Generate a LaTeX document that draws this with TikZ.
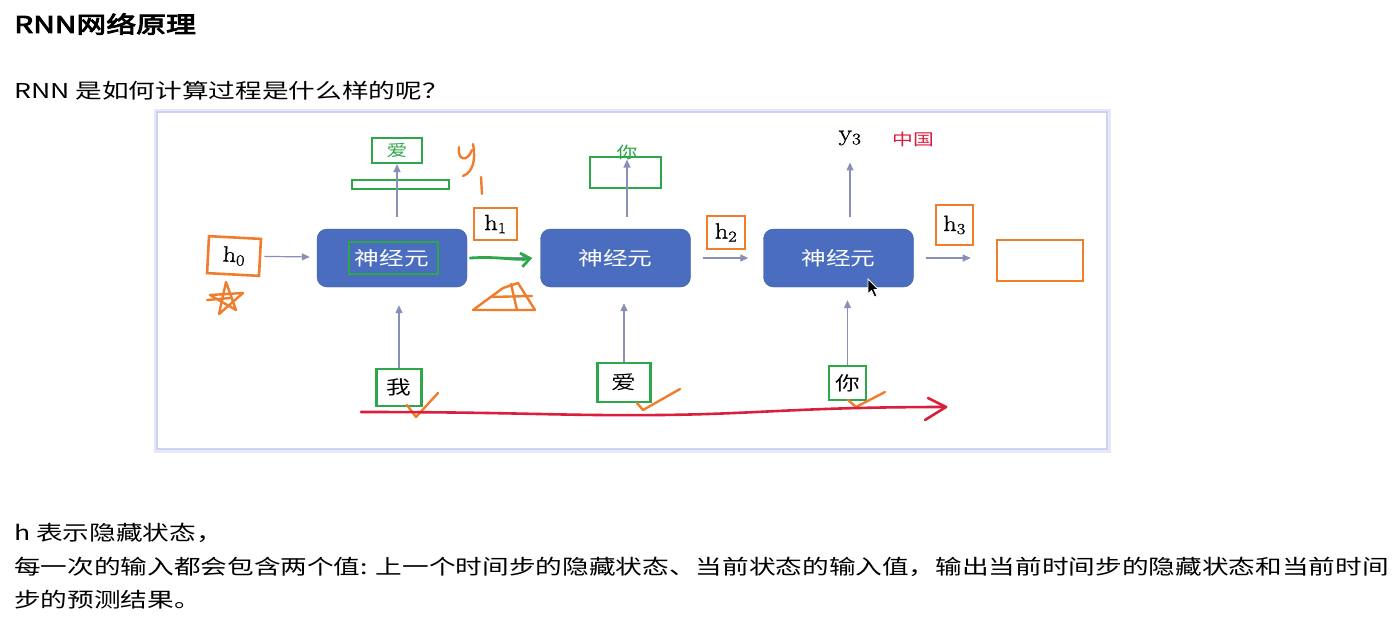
\documentclass[tikz,border=0pt]{standalone}
\usepackage{fontspec}
\usepackage{graphicx}
\setmainfont{Noto Sans CJK SC}[FakeStretch=1.3]
\newfontfamily\titlefont{Noto Sans CJK SC}[FakeStretch=1.3,FakeBold=4]
\newfontfamily\serifnum{Latin Modern Roman}[FakeStretch=1.2,FakeBold=1]
\usetikzlibrary{arrows.meta,positioning}
\definecolor{neuronblue}{HTML}{4A6DBF}
\definecolor{flowgray}{HTML}{8A8FB8}
\definecolor{markgreen}{HTML}{2DA74A}
\definecolor{markorange}{HTML}{F07D2C}
\definecolor{markred}{HTML}{D91F3D}
\definecolor{frameblue}{HTML}{CDD1F4}
\newcommand{\hlab}[1]{{\serifnum h\textsubscript{#1}}}

\begin{document}
\begin{tikzpicture}[x=1pt, y=-1pt, >={Triangle[length=8pt,width=7pt]}]
\tikzstyle{neuron} = [rectangle, fill=neuronblue, draw=neuronblue!85!black, rounded corners=10pt,
minimum width=150pt, minimum height=58pt, text=white, font=\fontsize{19}{19}\selectfont]
\tikzstyle{flow} = [draw=flowgray, line width=1.2pt, ->]
\tikzstyle{hbox} = [rectangle, draw=markorange, line width=2.6pt, fill=white, inner sep=0pt, font=\fontsize{22}{22}\selectfont]
\tikzstyle{gbox} = [rectangle, draw=markgreen, line width=2.2pt, inner sep=0pt, font=\fontsize{19}{19}\selectfont]
\tikzstyle{pen} = [line width=2.4pt, line cap=round, line join=round]
\tikzstyle{para} = [anchor=west, inner sep=0pt, font=\fontsize{20.5}{20.5}\selectfont]
\useasboundingbox (0,0) rectangle (1398,627);
\fill[white] (0,0) rectangle (1398,627);
\node[anchor=west, inner sep=0pt, font=\titlefont\fontsize{23}{23}\selectfont] (T) at (14,24) {RNN网络原理};
\node[para] (Q) at (14,91) {RNN 是如何计算过程是什么样的呢？};
\node[draw=frameblue!50, line width=7pt, minimum width=950pt, minimum height=337pt] (F0) at (632,280.5) {};
\node[draw=frameblue, line width=2.5pt, fill=white, minimum width=950pt, minimum height=337pt] (F) at (632,280.5) {};
\node[neuron] (n1) at (392,258) {神经元};
\node[neuron] (n2) at (615.5,258) {神经元};
\node[neuron] (n3) at (838.5,258) {神经元};
\node[draw=markgreen, line width=1.5pt, minimum width=89pt, minimum height=32pt] (n1mark) at (393.5,258) {};
\node[hbox, minimum width=52pt, minimum height=37pt, rotate=-3] (hz) at (234,256) {\hlab{0}};
\node[hbox, minimum width=43pt, minimum height=32pt] (ho) at (495.5,224) {\hlab{1}};
\node[hbox, minimum width=38pt, minimum height=33pt] (ht) at (726,232.5) {\hlab{2}};
\node[hbox, minimum width=37pt, minimum height=40pt] (hth) at (954.5,225) {\hlab{3}};
\node[hbox, minimum width=86pt, minimum height=41pt] (hout) at (1040,260.5) {};
\node[gbox, minimum width=45pt, minimum height=37pt] (x1) at (399,387.5) {我};
\node[gbox, minimum width=53pt, minimum height=39pt] (x2) at (624,382.5) {爱};
\node[gbox, minimum width=37pt, minimum height=34pt] (x3) at (847.5,383) {你};
\node[gbox, minimum width=50pt, minimum height=25pt, text=markgreen, font=\fontsize{16}{16}\selectfont] (y1) at (397,150.5) {爱};
\node[gbox, minimum width=97pt, minimum height=9pt, line width=1.8pt] (y1bar) at (400.5,184.5) {};
\node[gbox, minimum width=71pt, minimum height=31pt] (y2box) at (625.5,172.5) {};
\node[text=markgreen, inner sep=0pt, font=\fontsize{16}{16}\selectfont] (y2) at (627,152) {你};
\node[inner sep=0pt, font=\serifnum\fontsize{23}{23}\selectfont] (y3) at (850,138) {y\textsubscript{3}};
\node[text=markred, inner sep=0pt, font=\fontsize{16}{16}\selectfont] (cn) at (913,139) {中国};
%% arrows
\draw[flow, shorten <=3pt, shorten >=7pt] (hz) -- (n1);
\draw[flow, shorten <=12pt, shorten >=10pt] (n1.east) -- (n2.west);
\draw[flow, shorten <=12pt, shorten >=15pt] (n2.east) -- (n3.west);
\draw[flow, shorten <=12pt, shorten >=25pt] (n3.east) -- (n3.east -| hout.west);
\draw[flow, shorten <=12pt] (n1.north -| y1.south) -- (y1.south);
\draw[flow, shorten <=12pt] (n2.north -| y2.south) -- (y2.south);
\draw[flow, shorten <=12pt, shorten >=17pt] (n3.north -| y3.south) -- (y3.south);
\draw[flow, shorten >=18pt] (x1.north) -- (x1.north |- n1.south);
\draw[flow, shorten >=16pt] (x2.north) -- (x2.north |- n2.south);
\draw[flow, shorten >=13pt] (x3.north) -- (x3.north |- n3.south);
%% pen marks
\draw[pen, markgreen, line width=2.8pt, -{Straight Barb[length=9pt,width=14pt]}] ([xshift=3pt]n1.east) .. controls (500,256) and (515,261) .. ([xshift=-8pt]n2.west);
\draw[pen, markorange] (459,147) .. controls (457,160) and (467,163) .. (472,150);
\draw[pen, markorange] (473,144) .. controls (476,160) and (473,172) .. (463,176);
\draw[pen, markorange] (481,177) -- (482,194);
\draw[pen, markorange] (219,314) -- (226,282) -- (236,310) -- (210,295) -- (243,293) -- cycle;
\draw[pen, markorange] (207,300) -- (230,298);
\draw[pen, markorange] (473,310) -- (503,288) -- (518,283) -- (535,310) -- cycle;
\draw[pen, markorange] (511,284) -- (517,310) (490,297) -- (532,296);
\draw[pen, markorange] (407,405) -- (416,417) -- (438,393);
\draw[pen, markorange] (637,403) -- (643,410) -- (680,389);
\draw[pen, markorange] (848,400) -- (856,407) -- (885,392);
\coordinate (rs) at (361,412);
\coordinate (re) at (946,407);
\draw[pen, markred, line width=2.6pt] (rs) .. controls (520,412) and (560,416) .. (660,415) .. controls (760,414) and (800,407) .. (re);
\draw[pen, markred, line width=2.6pt] (928,398) -- (re) -- (925,420);
\filldraw[fill=black, draw=white, line width=0.8pt] (868,279) -- (868,294) -- (871.5,290.5) -- (874.5,297) -- (877,296) -- (874,289.5) -- (878.5,289.5) -- cycle;
\node[para] (L1) at (14,533) {h 表示隐藏状态，};
\node[para] (L2) at (14,567) {每一次的输入都会包含两个值: 上一个时间步的隐藏状态、当前状态的输入值，输出当前时间步的隐藏状态和当前时间};
\node[para] (L3) at (14,600) {步的预测结果。};
\end{tikzpicture}
\end{document}
